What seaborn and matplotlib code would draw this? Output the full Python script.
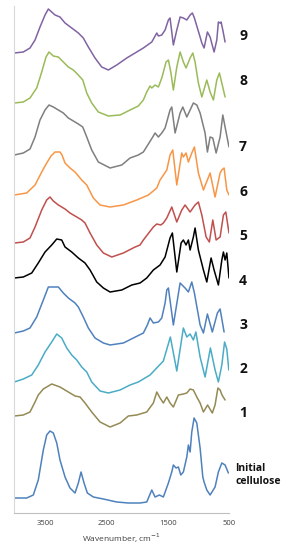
import matplotlib
matplotlib.use("Agg")
import matplotlib.pyplot as plt
import matplotlib.transforms as mtransforms
import seaborn as sns
import pandas as pd

# ---- data (intensities offset, a.u.) ----
wn_9 = [4000, 3853, 3744, 3662, 3581, 3499, 3445, 3390, 3336, 3255, 3173, 3064, 2956, 2875, 2793, 2684, 2575, 2467,
        2330, 2167, 2031, 1896, 1759, 1677, 1651, 1596, 1542, 1488, 1461, 1407, 1351, 1297, 1244, 1188, 1134, 1097,
        1064, 971, 943, 906, 852, 808, 743, 699, 673, 645, 629, 601, 564]
y_9 = [4.60, 4.61, 4.65, 4.73, 4.86, 4.98, 5.04, 5.01, 4.98, 4.96, 4.90, 4.85, 4.80, 4.75, 4.66, 4.55, 4.46, 4.43,
       4.48, 4.55, 4.60, 4.65, 4.71, 4.80, 4.77, 4.78, 4.83, 4.93, 4.95, 4.68, 4.83, 4.96, 4.95, 4.93, 4.98, 5.00,
       4.95, 4.76, 4.70, 4.65, 4.81, 4.76, 4.61, 4.73, 4.91, 4.90, 4.91, 4.83, 4.71]

wn_8 = [4000, 3853, 3744, 3635, 3553, 3483, 3434, 3364, 3282, 3201, 3119, 3038, 2956, 2884, 2819, 2738, 2630, 2467,
        2276, 2113, 1978, 1896, 1841, 1787, 1759, 1705, 1651, 1596, 1526, 1488, 1449, 1407, 1351, 1297, 1244, 1200,
        1134, 1090, 1053, 999, 943, 862, 808, 754, 699, 656, 617, 564]
y_8 = [4.10, 4.11, 4.15, 4.25, 4.41, 4.56, 4.61, 4.57, 4.56, 4.51, 4.46, 4.43, 4.38, 4.33, 4.20, 4.10, 4.01, 3.97,
       3.98, 4.03, 4.07, 4.13, 4.21, 4.27, 4.25, 4.28, 4.26, 4.35, 4.51, 4.53, 4.41, 4.23, 4.46, 4.61, 4.51, 4.45,
       4.55, 4.60, 4.51, 4.30, 4.16, 4.33, 4.21, 4.13, 4.33, 4.40, 4.30, 4.16]

wn_7 = [4000, 3853, 3744, 3662, 3581, 3499, 3434, 3364, 3282, 3201, 3119, 3038, 2956, 2884, 2819, 2738, 2630, 2439,
        2248, 2113, 1978, 1896, 1743, 1705, 1651, 1596, 1542, 1461, 1433, 1379, 1297, 1253, 1188, 1134, 1081, 1025,
        971, 890, 852, 808, 764, 710, 645, 601, 564, 500]
y_7 = [3.58, 3.60, 3.64, 3.76, 3.93, 4.03, 4.08, 4.06, 4.03, 4.00, 3.95, 3.92, 3.89, 3.86, 3.76, 3.63, 3.51, 3.45,
       3.48, 3.55, 3.58, 3.61, 3.76, 3.80, 3.76, 3.80, 3.85, 4.03, 4.06, 3.80, 4.00, 4.06, 3.96, 4.03, 4.10, 4.08,
       4.00, 3.80, 3.61, 3.76, 3.75, 3.60, 3.76, 3.98, 3.86, 3.66]

wn_6 = [4000, 3798, 3662, 3553, 3472, 3401, 3336, 3255, 3222, 3173, 3092, 3010, 2901, 2819, 2712, 2602, 2439, 2222,
        2004, 1814, 1677, 1624, 1514, 1461, 1417, 1351, 1270, 1244, 1200, 1162, 1107, 1064, 999, 917, 808, 727, 645,
        617, 580, 536, 500]
y_6 = [3.18, 3.20, 3.28, 3.41, 3.50, 3.57, 3.61, 3.61, 3.58, 3.50, 3.45, 3.41, 3.33, 3.28, 3.15, 3.08, 3.06, 3.08,
       3.13, 3.18, 3.25, 3.33, 3.43, 3.58, 3.63, 3.28, 3.60, 3.56, 3.60, 3.51, 3.60, 3.66, 3.40, 3.23, 3.40, 3.16, 3.40,
       3.43, 3.45, 3.23, 3.18]

wn_5 = [4000, 3853, 3744, 3662, 3553, 3472, 3418, 3364, 3282, 3173, 3092, 2982, 2901, 2847, 2765, 2656, 2548, 2411,
        2222, 2031, 1950, 1896, 1733, 1677, 1612, 1570, 1514, 1433, 1351, 1270, 1216, 1134, 1053, 999, 943, 873, 820,
        764, 710, 645, 591, 552, 500]
y_5 = [2.70, 2.71, 2.75, 2.86, 3.03, 3.13, 3.16, 3.12, 3.08, 3.04, 3.00, 2.96, 2.93, 2.90, 2.80, 2.68, 2.60, 2.56,
       2.60, 2.66, 2.68, 2.73, 2.86, 2.89, 2.88, 2.90, 2.95, 3.06, 2.91, 3.03, 3.08, 3.01, 3.08, 3.11, 2.98, 2.76, 2.71,
       2.93, 2.73, 2.76, 2.98, 3.01, 2.80]

wn_4 = [4000, 3853, 3716, 3609, 3499, 3390, 3308, 3227, 3173, 3064, 2956, 2847, 2765, 2656, 2548, 2439, 2248, 2085,
        1950, 1841, 1733, 1624, 1542, 1461, 1423, 1351, 1281, 1244, 1200, 1162, 1134, 1081, 1053, 999, 917, 862, 792,
        743, 673, 617, 591, 564, 536, 500]
y_4 = [2.35, 2.36, 2.40, 2.50, 2.61, 2.68, 2.74, 2.73, 2.66, 2.61, 2.55, 2.50, 2.43, 2.31, 2.25, 2.21, 2.23, 2.28,
       2.30, 2.35, 2.43, 2.48, 2.56, 2.75, 2.80, 2.41, 2.70, 2.73, 2.68, 2.73, 2.63, 2.76, 2.85, 2.63, 2.43, 2.31, 2.55,
       2.43, 2.28, 2.53, 2.61, 2.53, 2.60, 2.35]

wn_3 = [4000, 3853, 3744, 3635, 3527, 3445, 3364, 3282, 3201, 3119, 3010, 2956, 2875, 2793, 2684, 2548, 2439, 2222,
        2059, 1896, 1831, 1787, 1733, 1651, 1596, 1542, 1514, 1488, 1407, 1297, 1216, 1162, 1107, 1064, 971, 917, 852,
        772, 689, 645, 580]
y_3 = [1.80, 1.82, 1.85, 1.96, 2.13, 2.26, 2.26, 2.26, 2.20, 2.15, 2.10, 2.06, 1.96, 1.85, 1.75, 1.70, 1.68, 1.70,
       1.75, 1.80, 1.88, 1.95, 1.90, 1.91, 1.95, 2.10, 2.23, 2.25, 1.88, 2.30, 2.25, 2.21, 2.31, 2.20, 1.88, 1.80, 1.99,
       1.81, 2.00, 2.04, 1.81]

wn_2 = [4000, 3853, 3716, 3609, 3499, 3390, 3308, 3227, 3145, 3064, 2982, 2901, 2819, 2738, 2602, 2467, 2276, 2113,
        1978, 1787, 1570, 1456, 1351, 1244, 1188, 1134, 1081, 1040, 971, 890, 803, 727, 673, 617, 572, 536, 503]
y_2 = [1.31, 1.34, 1.38, 1.48, 1.61, 1.71, 1.79, 1.75, 1.65, 1.58, 1.53, 1.46, 1.41, 1.31, 1.22, 1.20, 1.23, 1.28,
       1.31, 1.38, 1.52, 1.76, 1.42, 1.85, 1.76, 1.79, 1.73, 1.81, 1.56, 1.36, 1.65, 1.43, 1.31, 1.48, 1.71, 1.64, 1.43]

wn_1 = [4000, 3853, 3744, 3662, 3609, 3527, 3390, 3255, 3119, 3010, 2928, 2847, 2738, 2602, 2439, 2276, 2141, 2004,
        1841, 1733, 1677, 1624, 1570, 1514, 1461, 1407, 1325, 1244, 1188, 1134, 1081, 1025, 971, 917, 849, 772, 727,
        681, 645, 614, 564]
y_1 = [0.97, 0.98, 1.01, 1.11, 1.18, 1.24, 1.29, 1.26, 1.21, 1.17, 1.16, 1.10, 1.01, 0.91, 0.86, 0.90, 0.97, 0.98,
       1.01, 1.10, 1.21, 1.15, 1.10, 1.16, 1.10, 1.06, 1.18, 1.19, 1.20, 1.24, 1.23, 1.16, 1.10, 1.01, 1.08, 1.00, 1.08,
       1.25, 1.23, 1.18, 1.13]

wn_0 = [4000, 3798, 3690, 3609, 3527, 3472, 3418, 3364, 3308, 3255, 3173, 3092, 3010, 2956, 2912, 2863, 2809, 2712,
        2548, 2330, 2141, 1950, 1841, 1759, 1705, 1635, 1570, 1488, 1433, 1407, 1363, 1325, 1286, 1244, 1188, 1162,
        1134, 1107, 1069, 1025, 971, 927, 906, 862, 808, 727, 673, 617, 564, 510]
y_0 = [0.15, 0.15, 0.18, 0.33, 0.63, 0.78, 0.82, 0.80, 0.70, 0.53, 0.36, 0.25, 0.20, 0.30, 0.41, 0.30, 0.20, 0.16,
       0.14, 0.11, 0.10, 0.10, 0.11, 0.23, 0.16, 0.18, 0.16, 0.30, 0.41, 0.48, 0.45, 0.46, 0.38, 0.41, 0.56, 0.68,
       0.61, 0.81, 0.95, 0.90, 0.65, 0.36, 0.31, 0.23, 0.18, 0.26, 0.41, 0.50, 0.48, 0.40]

samples = ["9", "8", "7", "6", "5", "4", "3", "2", "1", "Initial\ncellulose"]
label_y = [4.77, 4.32, 3.66, 3.21, 2.77, 2.32, 1.88, 1.44, 1.00, 0.38]
colors = ["#8064A2", "#9BBB59", "#7F7F7F", "#F79646", "#C0504D", "#000000",
          "#4F81BD", "#4BACC6", "#948A54", "#4F81BD"]
series = [(wn_9, y_9), (wn_8, y_8), (wn_7, y_7), (wn_6, y_6), (wn_5, y_5), (wn_4, y_4),
          (wn_3, y_3), (wn_2, y_2), (wn_1, y_1), (wn_0, y_0)]
x_ticks = [3500, 2500, 1500, 500]

rows = []
for name, (wx, wy) in zip(samples, series):
    for a, b in zip(wx, wy):
        rows.append({"sample": name, "wn": a, "val": b})
df = pd.DataFrame(rows)

sns.set_style("white")
plt.rcParams["font.family"] = ["Open Sans", "DejaVu Sans"]

fig = plt.figure(figsize=(2.9, 5.5), dpi=100)
ax = fig.add_axes([14.3 / 290, 37 / 550, (229 - 14.3) / 290, (513 - 6) / 550])

sns.lineplot(data=df, x="wn", y="val", hue="sample", palette=dict(zip(samples, colors)),
             sort=False, estimator=None, legend=False, linewidth=1.1, ax=ax)
for ln in ax.get_lines():
    ln.set_solid_joinstyle("round")
    ln.set_solid_capstyle("round")

ax.set_xlim(4000, 500)
ax.set_ylim(0.0, 5.07)
ax.set_xticks(x_ticks)
ax.set_xticklabels([str(t) for t in x_ticks], fontsize=5.5, color="#404040")
ax.set_yticks([])
ax.tick_params(axis="x", length=0, pad=5)
ax.set_xlabel("Wavenumber, cm$^{-1}$", fontsize=6, color="#404040", labelpad=3)
ax.set_ylabel("")
for s in ["top", "right"]:
    ax.spines[s].set_visible(False)
ax.spines["left"].set_color("#D9D9D9")
ax.spines["bottom"].set_color("#BFBFBF")
ax.spines["left"].set_linewidth(0.8)
ax.spines["bottom"].set_linewidth(0.8)

trans = mtransforms.blended_transform_factory(ax.transAxes, ax.transData)
for name, ly in zip(samples, label_y):
    if "\n" in name:
        ax.text((235.5 - 14.3) / 214.7, ly, name, transform=trans, fontsize=7.5, fontweight="bold",
                ha="left", va="center", linespacing=1.25, color="#111111")
    else:
        ax.text((243 - 14.3) / 214.7, ly, name, transform=trans, fontsize=10, fontweight="bold",
                ha="center", va="center", color="#111111")

fig.savefig("out.png", dpi=100)
